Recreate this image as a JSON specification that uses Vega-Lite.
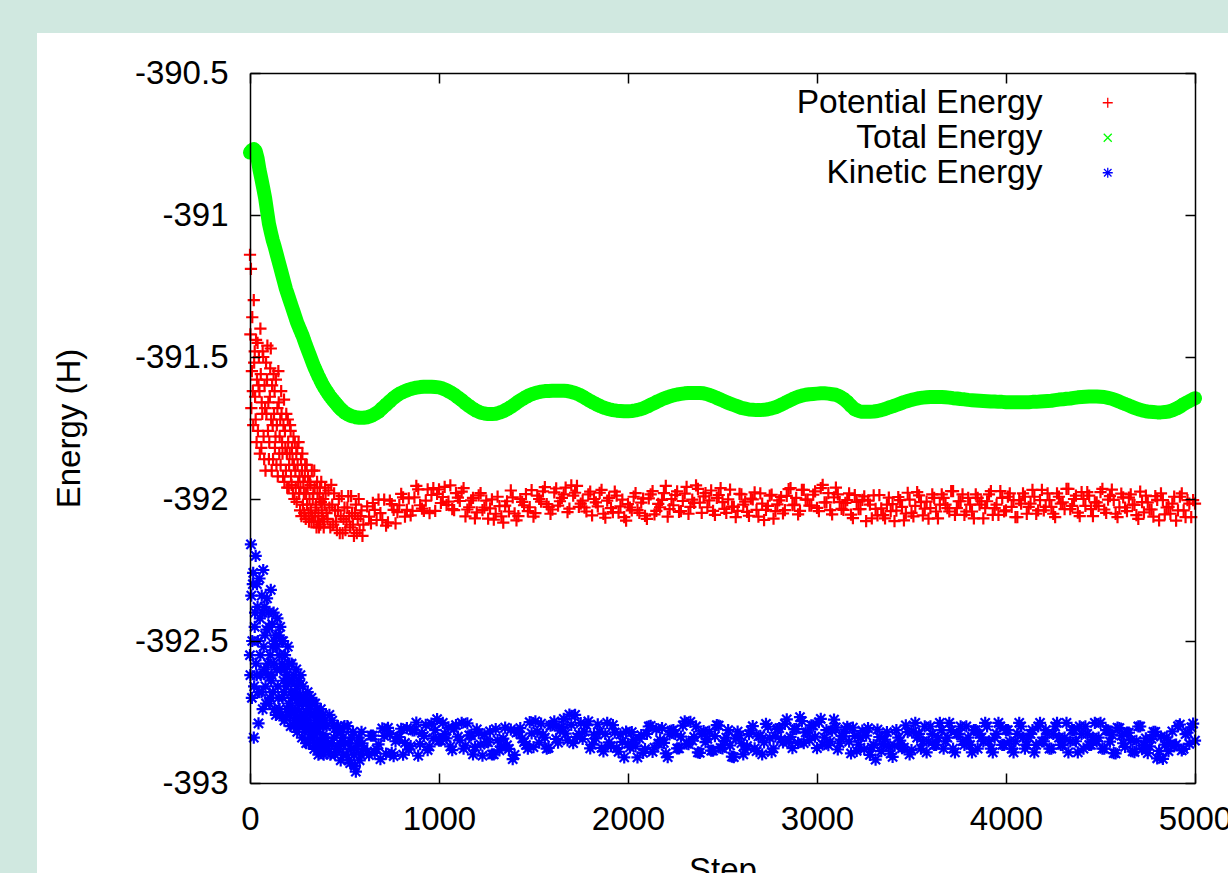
{
"$schema": "https://vega.github.io/schema/vega-lite/v6.json",
"width": 945, "height": 710,
"autosize": {"type": "none"},
"padding": {"left": 250, "top": 73, "right": 33, "bottom": 90},
"background": "#d0e8e0",
"config": {"view": {"stroke": null}, "font": "Liberation Sans"},
"datasets": {"energy": [
{"s":0,"t":-390.78,"p":-391.14,"k":-392.55},
{"s":5,"p":-391.19,"k":-392.16},
{"s":10,"t":-390.772,"p":-391.55,"k":-392.7},
{"s":15,"p":-391.62,"k":-392.3},
{"s":20,"t":-390.768,"p":-391.3,"k":-392.84},
{"s":25,"p":-391.48,"k":-392.45},
{"s":30,"t":-390.775,"p":-391.72,"k":-392.2},
{"s":35,"p":-391.8,"k":-392.62},
{"s":40,"t":-390.8,"p":-391.45,"k":-392.38},
{"s":45,"p":-391.6,"k":-392.79},
{"s":50,"t":-390.84,"p":-391.62,"k":-392.28},
{"s":55,"p":-391.4,"k":-392.55},
{"s":60,"t":-390.872,"p":-391.82,"k":-392.68},
{"s":65,"p":-391.7,"k":-392.4},
{"s":70,"t":-390.905,"p":-391.5,"k":-392.25},
{"s":75,"p":-391.86,"k":-392.6},
{"s":80,"t":-390.94,"p":-391.68,"k":-392.48},
{"s":85,"p":-391.52,"k":-392.72},
{"s":90,"t":-390.985,"p":-391.58,"k":-392.35},
{"s":95,"p":-391.76,"k":-392.58},
{"s":100,"t":-391.03,"p":-391.86,"k":-392.45},
{"s":105,"p":-391.64,"k":-392.7},
{"s":110,"t":-391.06,"p":-391.47,"k":-392.32},
{"s":115,"p":-391.9,"k":-392.62},
{"s":120,"t":-391.088,"p":-391.74,"k":-392.52},
{"s":125,"p":-391.56,"k":-392.4},
{"s":130,"t":-391.11,"p":-391.62,"k":-392.74},
{"s":135,"p":-391.78,"k":-392.48},
{"s":140,"t":-391.135,"p":-391.88,"k":-392.6},
{"s":145,"p":-391.68,"k":-392.42},
{"s":150,"t":-391.16,"p":-391.55,"k":-392.7},
{"s":155,"p":-391.84,"k":-392.55},
{"s":160,"t":-391.185,"p":-391.72,"k":-392.45},
{"s":165,"p":-391.62,"k":-392.76},
{"s":170,"t":-391.21,"p":-391.8,"k":-392.58},
{"s":175,"p":-391.92,"k":-392.5},
{"s":180,"t":-391.235,"p":-391.65,"k":-392.68},
{"s":185,"p":-391.76,"k":-392.55},
{"s":190,"t":-391.26,"p":-391.9,"k":-392.77},
{"s":195,"p":-391.84,"k":-392.62},
{"s":200,"t":-391.28,"p":-391.72,"k":-392.52},
{"s":205,"p":-391.96,"k":-392.72},
{"s":210,"t":-391.3,"p":-391.84,"k":-392.64},
{"s":215,"p":-391.76,"k":-392.8},
{"s":220,"t":-391.32,"p":-391.95,"k":-392.58},
{"s":225,"p":-391.86,"k":-392.7},
{"s":230,"t":-391.34,"p":-391.78,"k":-392.62},
{"s":235,"p":-392.0,"k":-392.78},
{"s":240,"t":-391.36,"p":-391.9,"k":-392.68},
{"s":245,"p":-391.84,"k":-392.6},
{"s":250,"t":-391.38,"p":-391.82,"k":-392.82},
{"s":255,"p":-391.94,"k":-392.72},
{"s":260,"t":-391.396,"p":-391.98,"k":-392.64},
{"s":265,"p":-392.04,"k":-392.78},
{"s":270,"t":-391.412,"p":-391.86,"k":-392.7},
{"s":275,"p":-391.9,"k":-392.84},
{"s":280,"t":-391.428,"p":-392.02,"k":-392.66},
{"s":285,"p":-391.98,"k":-392.76},
{"s":290,"t":-391.447,"p":-391.92,"k":-392.82},
{"s":295,"p":-392.07,"k":-392.7},
{"s":300,"t":-391.465,"p":-391.88,"k":-392.78},
{"s":305,"p":-391.96,"k":-392.68},
{"s":310,"t":-391.483,"p":-392.05,"k":-392.86},
{"s":315,"p":-392.0,"k":-392.74},
{"s":320,"t":-391.5,"p":-391.95,"k":-392.8},
{"s":325,"p":-392.08,"k":-392.7},
{"s":330,"t":-391.518,"p":-392.06,"k":-392.84},
{"s":335,"p":-391.98,"k":-392.76},
{"s":340,"t":-391.535,"p":-391.9,"k":-392.88},
{"s":345,"p":-392.06,"k":-392.72},
{"s":350,"t":-391.55,"p":-392.02,"k":-392.82},
{"s":355,"p":-391.94,"k":-392.86},
{"s":360,"t":-391.565,"p":-392.08,"k":-392.76},
{"s":365,"p":-392.1,"k":-392.88},
{"s":370,"t":-391.578,"p":-391.96,"k":-392.8},
{"s":375,"p":-392.01,"k":-392.74},
{"s":380,"t":-391.592,"p":-392.04,"k":-392.86},
{"s":385,"p":-392.07,"k":-392.8},
{"s":390,"t":-391.604,"p":-392.1,"k":-392.9},
{"s":395,"p":-392.02,"k":-392.78},
{"s":400,"t":-391.615,"p":-391.98,"k":-392.84},
{"s":410,"t":-391.625,"p":-392.07,"k":-392.88},
{"s":420,"t":-391.635,"p":-392.03,"k":-392.76},
{"s":430,"t":-391.644,"p":-391.95,"k":-392.86},
{"s":440,"t":-391.652,"p":-392.09,"k":-392.8},
{"s":450,"t":-391.66,"p":-392.04,"k":-392.9},
{"s":460,"t":-391.668,"p":-392.11,"k":-392.82},
{"s":470,"t":-391.676,"p":-392.0,"k":-392.88},
{"s":480,"t":-391.683,"p":-392.06,"k":-392.92},
{"s":490,"t":-391.689,"p":-392.12,"k":-392.84},
{"s":500,"t":-391.695,"p":-392.03,"k":-392.8},
{"s":510,"t":-391.699,"p":-392.08,"k":-392.9},
{"s":520,"t":-391.703,"p":-391.99,"k":-392.86},
{"s":530,"t":-391.706,"p":-392.1,"k":-392.93},
{"s":540,"t":-391.709,"p":-392.05,"k":-392.84},
{"s":550,"t":-391.71,"p":-392.13,"k":-392.9},
{"s":560,"t":-391.712,"p":-392.02,"k":-392.96},
{"s":570,"t":-391.713,"p":-392.07,"k":-392.86},
{"s":580,"t":-391.714,"p":-392.11,"k":-392.92},
{"s":590,"t":-391.714,"p":-392.04,"k":-392.82},
{"s":600,"t":-391.714,"p":-392.09,"k":-392.88},
{"s":620,"t":-391.712,"p":-392.026,"k":-392.889},
{"s":640,"t":-391.708,"p":-392.086,"k":-392.833},
{"s":660,"t":-391.701,"p":-392.038,"k":-392.894},
{"s":680,"t":-391.693,"p":-392.002,"k":-392.864},
{"s":700,"t":-391.68,"p":-392.074,"k":-392.808},
{"s":720,"t":-391.668,"p":-392.094,"k":-392.897},
{"s":740,"t":-391.656,"p":-392.006,"k":-392.829},
{"s":760,"t":-391.644,"p":-392.038,"k":-392.905},
{"s":780,"t":-391.634,"p":-392.046,"k":-392.838},
{"s":800,"t":-391.626,"p":-391.982,"k":-392.809},
{"s":820,"t":-391.62,"p":-392.062,"k":-392.859},
{"s":840,"t":-391.615,"p":-391.998,"k":-392.883},
{"s":860,"t":-391.611,"p":-392.042,"k":-392.815},
{"s":880,"t":-391.608,"p":-391.954,"k":-392.787},
{"s":900,"t":-391.606,"p":-392.022,"k":-392.863},
{"s":920,"t":-391.605,"p":-392.042,"k":-392.834},
{"s":940,"t":-391.605,"p":-391.966,"k":-392.884},
{"s":960,"t":-391.605,"p":-391.986,"k":-392.791},
{"s":980,"t":-391.606,"p":-392.042,"k":-392.814},
{"s":1000,"t":-391.607,"p":-391.966,"k":-392.851},
{"s":1020,"t":-391.611,"p":-391.993,"k":-392.788},
{"s":1040,"t":-391.617,"p":-392.021,"k":-392.843},
{"s":1060,"t":-391.624,"p":-391.952,"k":-392.871},
{"s":1080,"t":-391.632,"p":-392.039,"k":-392.809},
{"s":1100,"t":-391.642,"p":-391.995,"k":-392.837},
{"s":1120,"t":-391.652,"p":-391.974,"k":-392.788},
{"s":1140,"t":-391.663,"p":-392.061,"k":-392.868},
{"s":1160,"t":-391.673,"p":-392.029,"k":-392.832},
{"s":1180,"t":-391.682,"p":-391.996,"k":-392.899},
{"s":1200,"t":-391.69,"p":-392.047,"k":-392.811},
{"s":1220,"t":-391.696,"p":-391.979,"k":-392.865},
{"s":1240,"t":-391.699,"p":-392.03,"k":-392.829},
{"s":1260,"t":-391.701,"p":-392.069,"k":-392.857},
{"s":1280,"t":-391.701,"p":-392.001,"k":-392.899},
{"s":1300,"t":-391.7,"p":-392.052,"k":-392.81},
{"s":1320,"t":-391.696,"p":-392.025,"k":-392.885},
{"s":1340,"t":-391.691,"p":-392.083,"k":-392.844},
{"s":1360,"t":-391.684,"p":-392.008,"k":-392.867},
{"s":1380,"t":-391.676,"p":-391.97,"k":-392.812},
{"s":1400,"t":-391.667,"p":-392.051,"k":-392.901},
{"s":1420,"t":-391.657,"p":-392.06,"k":-392.82},
{"s":1440,"t":-391.649,"p":-392.01,"k":-392.843},
{"s":1460,"t":-391.641,"p":-391.983,"k":-392.866},
{"s":1480,"t":-391.634,"p":-392.029,"k":-392.786},
{"s":1500,"t":-391.629,"p":-392.062,"k":-392.874},
{"s":1520,"t":-391.625,"p":-391.988,"k":-392.819},
{"s":1540,"t":-391.622,"p":-392.009,"k":-392.791},
{"s":1560,"t":-391.62,"p":-391.958,"k":-392.84},
{"s":1580,"t":-391.62,"p":-392.028,"k":-392.876},
{"s":1600,"t":-391.619,"p":-392.037,"k":-392.796},
{"s":1620,"t":-391.619,"p":-391.963,"k":-392.845},
{"s":1640,"t":-391.619,"p":-392.008,"k":-392.816},
{"s":1660,"t":-391.619,"p":-391.984,"k":-392.774},
{"s":1680,"t":-391.62,"p":-392.046,"k":-392.85},
{"s":1700,"t":-391.623,"p":-391.952,"k":-392.795},
{"s":1720,"t":-391.627,"p":-391.978,"k":-392.76},
{"s":1740,"t":-391.632,"p":-392.028,"k":-392.828},
{"s":1760,"t":-391.639,"p":-392.006,"k":-392.845},
{"s":1780,"t":-391.647,"p":-392.044,"k":-392.796},
{"s":1800,"t":-391.655,"p":-391.974,"k":-392.878},
{"s":1820,"t":-391.662,"p":-392.0,"k":-392.83},
{"s":1840,"t":-391.669,"p":-392.026,"k":-392.794},
{"s":1860,"t":-391.675,"p":-391.968,"k":-392.876},
{"s":1880,"t":-391.68,"p":-392.066,"k":-392.827},
{"s":1900,"t":-391.684,"p":-391.996,"k":-392.857},
{"s":1920,"t":-391.687,"p":-392.046,"k":-392.796},
{"s":1940,"t":-391.689,"p":-391.988,"k":-392.877},
{"s":1960,"t":-391.69,"p":-392.026,"k":-392.829},
{"s":1980,"t":-391.691,"p":-392.064,"k":-392.91},
{"s":2000,"t":-391.691,"p":-392.018,"k":-392.862},
{"s":2020,"t":-391.69,"p":-392.04,"k":-392.821},
{"s":2040,"t":-391.688,"p":-391.979,"k":-392.871},
{"s":2060,"t":-391.685,"p":-392.049,"k":-392.844},
{"s":2080,"t":-391.681,"p":-391.999,"k":-392.894},
{"s":2100,"t":-391.675,"p":-392.07,"k":-392.827},
{"s":2120,"t":-391.668,"p":-391.984,"k":-392.799},
{"s":2140,"t":-391.662,"p":-392.054,"k":-392.875},
{"s":2160,"t":-391.655,"p":-392.017,"k":-392.861},
{"s":2180,"t":-391.649,"p":-392.003,"k":-392.807},
{"s":2200,"t":-391.644,"p":-391.954,"k":-392.896},
{"s":2220,"t":-391.639,"p":-392.036,"k":-392.829},
{"s":2240,"t":-391.635,"p":-392.022,"k":-392.814},
{"s":2260,"t":-391.632,"p":-391.973,"k":-392.878},
{"s":2280,"t":-391.63,"p":-392.043,"k":-392.837},
{"s":2300,"t":-391.628,"p":-391.981,"k":-392.783},
{"s":2320,"t":-391.627,"p":-392.052,"k":-392.863},
{"s":2340,"t":-391.627,"p":-392.002,"k":-392.851},
{"s":2360,"t":-391.627,"p":-391.952,"k":-392.801},
{"s":2380,"t":-391.627,"p":-392.013,"k":-392.894},
{"s":2400,"t":-391.628,"p":-391.991,"k":-392.817},
{"s":2420,"t":-391.631,"p":-392.029,"k":-392.845},
{"s":2440,"t":-391.636,"p":-391.97,"k":-392.886},
{"s":2460,"t":-391.641,"p":-392.056,"k":-392.835},
{"s":2480,"t":-391.647,"p":-391.986,"k":-392.798},
{"s":2500,"t":-391.653,"p":-392.011,"k":-392.878},
{"s":2520,"t":-391.659,"p":-392.049,"k":-392.84},
{"s":2540,"t":-391.664,"p":-391.967,"k":-392.868},
{"s":2560,"t":-391.669,"p":-392.028,"k":-392.909},
{"s":2580,"t":-391.674,"p":-392.042,"k":-392.819},
{"s":2600,"t":-391.679,"p":-391.984,"k":-392.86},
{"s":2620,"t":-391.682,"p":-392.009,"k":-392.883},
{"s":2640,"t":-391.685,"p":-392.059,"k":-392.828},
{"s":2660,"t":-391.686,"p":-392.001,"k":-392.8},
{"s":2680,"t":-391.687,"p":-392.038,"k":-392.888},
{"s":2700,"t":-391.687,"p":-391.98,"k":-392.834},
{"s":2720,"t":-391.686,"p":-392.074,"k":-392.857},
{"s":2740,"t":-391.684,"p":-392.024,"k":-392.802},
{"s":2760,"t":-391.681,"p":-391.985,"k":-392.891},
{"s":2780,"t":-391.677,"p":-392.043,"k":-392.836},
{"s":2800,"t":-391.671,"p":-392.005,"k":-392.807},
{"s":2820,"t":-391.665,"p":-392.051,"k":-392.857},
{"s":2840,"t":-391.658,"p":-391.989,"k":-392.776},
{"s":2860,"t":-391.652,"p":-391.962,"k":-392.838},
{"s":2880,"t":-391.645,"p":-392.02,"k":-392.81},
{"s":2900,"t":-391.64,"p":-392.054,"k":-392.859},
{"s":2920,"t":-391.636,"p":-391.968,"k":-392.782},
{"s":2940,"t":-391.633,"p":-392.002,"k":-392.822},
{"s":2960,"t":-391.631,"p":-392.023,"k":-392.849},
{"s":2980,"t":-391.63,"p":-391.985,"k":-392.798},
{"s":3000,"t":-391.629,"p":-392.031,"k":-392.877},
{"s":3020,"t":-391.628,"p":-391.962,"k":-392.774},
{"s":3040,"t":-391.628,"p":-392.012,"k":-392.84},
{"s":3060,"t":-391.629,"p":-391.979,"k":-392.867},
{"s":3080,"t":-391.631,"p":-392.054,"k":-392.816},
{"s":3100,"t":-391.633,"p":-391.96,"k":-392.804},
{"s":3120,"t":-391.639,"p":-392.011,"k":-392.86},
{"s":3140,"t":-391.647,"p":-392.038,"k":-392.837},
{"s":3160,"t":-391.658,"p":-392.004,"k":-392.802},
{"s":3180,"t":-391.672,"p":-392.055,"k":-392.896},
{"s":3200,"t":-391.684,"p":-391.986,"k":-392.835},
{"s":3220,"t":-391.69,"p":-392.036,"k":-392.865},
{"s":3240,"t":-391.693,"p":-392.003,"k":-392.816},
{"s":3260,"t":-391.693,"p":-392.078,"k":-392.833},
{"s":3280,"t":-391.693,"p":-392.02,"k":-392.901},
{"s":3300,"t":-391.692,"p":-391.987,"k":-392.866},
{"s":3320,"t":-391.69,"p":-392.058,"k":-392.812},
{"s":3340,"t":-391.687,"p":-392.033,"k":-392.888},
{"s":3360,"t":-391.683,"p":-392.068,"k":-392.847},
{"s":3380,"t":-391.678,"p":-391.995,"k":-392.871},
{"s":3400,"t":-391.674,"p":-392.018,"k":-392.908},
{"s":3420,"t":-391.669,"p":-392.041,"k":-392.814},
{"s":3440,"t":-391.664,"p":-392.004,"k":-392.851},
{"s":3460,"t":-391.659,"p":-392.075,"k":-392.875},
{"s":3480,"t":-391.655,"p":-391.978,"k":-392.821},
{"s":3500,"t":-391.651,"p":-392.049,"k":-392.884},
{"s":3520,"t":-391.648,"p":-392.024,"k":-392.788},
{"s":3540,"t":-391.645,"p":-391.987,"k":-392.827},
{"s":3560,"t":-391.643,"p":-392.058,"k":-392.853},
{"s":3580,"t":-391.642,"p":-392.009,"k":-392.892},
{"s":3600,"t":-391.641,"p":-392.032,"k":-392.801},
{"s":3620,"t":-391.641,"p":-391.996,"k":-392.866},
{"s":3640,"t":-391.641,"p":-392.068,"k":-392.84},
{"s":3660,"t":-391.641,"p":-391.984,"k":-392.814},
{"s":3680,"t":-391.642,"p":-392.02,"k":-392.853},
{"s":3700,"t":-391.643,"p":-392.044,"k":-392.788},
{"s":3720,"t":-391.645,"p":-391.972,"k":-392.879},
{"s":3740,"t":-391.646,"p":-392.032,"k":-392.827},
{"s":3760,"t":-391.648,"p":-392.008,"k":-392.801},
{"s":3780,"t":-391.649,"p":-392.056,"k":-392.866},
{"s":3800,"t":-391.651,"p":-391.996,"k":-392.84},
{"s":3820,"t":-391.652,"p":-392.044,"k":-392.892},
{"s":3840,"t":-391.653,"p":-391.984,"k":-392.814},
{"s":3860,"t":-391.654,"p":-392.02,"k":-392.827},
{"s":3880,"t":-391.655,"p":-392.068,"k":-392.853},
{"s":3900,"t":-391.656,"p":-392.008,"k":-392.801},
{"s":3920,"t":-391.657,"p":-391.972,"k":-392.879},
{"s":3940,"t":-391.657,"p":-392.032,"k":-392.84},
{"s":3960,"t":-391.658,"p":-392.056,"k":-392.788},
{"s":3980,"t":-391.658,"p":-391.996,"k":-392.866},
{"s":4000,"t":-391.659,"p":-392.04,"k":-392.814},
{"s":4020,"t":-391.659,"p":-391.98,"k":-392.853},
{"s":4040,"t":-391.659,"p":-392.004,"k":-392.892},
{"s":4060,"t":-391.659,"p":-392.064,"k":-392.827},
{"s":4080,"t":-391.659,"p":-392.016,"k":-392.801},
{"s":4100,"t":-391.659,"p":-391.992,"k":-392.879},
{"s":4120,"t":-391.659,"p":-392.028,"k":-392.84},
{"s":4140,"t":-391.658,"p":-391.968,"k":-392.814},
{"s":4160,"t":-391.658,"p":-392.052,"k":-392.866},
{"s":4180,"t":-391.657,"p":-392.004,"k":-392.788},
{"s":4200,"t":-391.656,"p":-392.04,"k":-392.853},
{"s":4220,"t":-391.655,"p":-391.98,"k":-392.827},
{"s":4240,"t":-391.654,"p":-392.028,"k":-392.879},
{"s":4260,"t":-391.652,"p":-392.064,"k":-392.801},
{"s":4280,"t":-391.65,"p":-391.992,"k":-392.84},
{"s":4300,"t":-391.649,"p":-392.012,"k":-392.866},
{"s":4320,"t":-391.647,"p":-391.964,"k":-392.788},
{"s":4340,"t":-391.646,"p":-392.036,"k":-392.853},
{"s":4360,"t":-391.644,"p":-392.0,"k":-392.814},
{"s":4380,"t":-391.642,"p":-392.048,"k":-392.892},
{"s":4400,"t":-391.641,"p":-391.976,"k":-392.827},
{"s":4420,"t":-391.64,"p":-392.024,"k":-392.801},
{"s":4440,"t":-391.639,"p":-391.988,"k":-392.866},
{"s":4460,"t":-391.639,"p":-392.06,"k":-392.84},
{"s":4480,"t":-391.639,"p":-392.012,"k":-392.853},
{"s":4500,"t":-391.64,"p":-391.976,"k":-392.788},
{"s":4520,"t":-391.641,"p":-392.037,"k":-392.879},
{"s":4540,"t":-391.644,"p":-392.002,"k":-392.815},
{"s":4560,"t":-391.647,"p":-391.967,"k":-392.83},
{"s":4580,"t":-391.652,"p":-392.052,"k":-392.896},
{"s":4600,"t":-391.657,"p":-392.029,"k":-392.807},
{"s":4620,"t":-391.663,"p":-391.994,"k":-392.86},
{"s":4640,"t":-391.668,"p":-392.043,"k":-392.823},
{"s":4660,"t":-391.674,"p":-391.984,"k":-392.85},
{"s":4680,"t":-391.679,"p":-392.021,"k":-392.891},
{"s":4700,"t":-391.684,"p":-392.07,"k":-392.801},
{"s":4720,"t":-391.688,"p":-392.011,"k":-392.881},
{"s":4740,"t":-391.691,"p":-391.988,"k":-392.843},
{"s":4760,"t":-391.693,"p":-392.037,"k":-392.871},
{"s":4780,"t":-391.694,"p":-392.062,"k":-392.82},
{"s":4800,"t":-391.695,"p":-392.003,"k":-392.913},
{"s":4820,"t":-391.695,"p":-391.98,"k":-392.837},
{"s":4840,"t":-391.694,"p":-392.054,"k":-392.865},
{"s":4860,"t":-391.692,"p":-392.028,"k":-392.888},
{"s":4880,"t":-391.688,"p":-392.016,"k":-392.818},
{"s":4900,"t":-391.682,"p":-392.076,"k":-392.865},
{"s":4920,"t":-391.675,"p":-391.992,"k":-392.794},
{"s":4940,"t":-391.666,"p":-392.04,"k":-392.88},
{"s":4960,"t":-391.659,"p":-392.004,"k":-392.823},
{"s":4980,"t":-391.652,"p":-392.064,"k":-392.804},
{"s":5000,"t":-391.645,"p":-392.016,"k":-392.851},
{"s":2,"p":-391.42,"k":-392.62},{"s":7,"p":-391.68,"k":-392.34},{"s":12,"p":-391.36,"k":-392.5},{"s":17,"p":-391.74,"k":-392.26},
{"s":22,"p":-391.52,"k":-392.66},{"s":27,"p":-391.64,"k":-392.4},{"s":32,"p":-391.44,"k":-392.58},{"s":37,"p":-391.58,"k":-392.3},
{"s":42,"p":-391.76,"k":-392.5},{"s":47,"p":-391.5,"k":-392.68},{"s":52,"p":-391.84,"k":-392.42},{"s":57,"p":-391.56,"k":-392.62},
{"s":62,"p":-391.66,"k":-392.34},{"s":67,"p":-391.48,"k":-392.74},{"s":72,"p":-391.78,"k":-392.52},{"s":77,"p":-391.6,"k":-392.38},
{"s":82,"p":-391.9,"k":-392.66},{"s":87,"p":-391.7,"k":-392.46},{"s":92,"p":-391.46,"k":-392.62},{"s":97,"p":-391.66,"k":-392.4},
{"s":102,"p":-391.8,"k":-392.72},{"s":107,"p":-391.54,"k":-392.55},{"s":112,"p":-391.72,"k":-392.64},{"s":117,"p":-391.6,"k":-392.44},
{"s":122,"p":-391.86,"k":-392.68},{"s":127,"p":-391.7,"k":-392.58},{"s":132,"p":-391.82,"k":-392.5},{"s":137,"p":-391.58,"k":-392.76},
{"s":142,"p":-391.74,"k":-392.52},{"s":147,"p":-391.92,"k":-392.66},{"s":152,"p":-391.66,"k":-392.48},{"s":157,"p":-391.78,"k":-392.74},
{"s":162,"p":-391.88,"k":-392.6},{"s":167,"p":-391.7,"k":-392.5},{"s":172,"p":-391.84,"k":-392.7},{"s":177,"p":-391.74,"k":-392.64},
{"s":182,"p":-391.94,"k":-392.78},{"s":187,"p":-391.82,"k":-392.6},{"s":192,"p":-391.7,"k":-392.66},{"s":197,"p":-391.96,"k":-392.74},
{"s":202,"p":-391.8,"k":-392.64},{"s":207,"p":-391.88,"k":-392.58},{"s":212,"p":-391.74,"k":-392.76},{"s":217,"p":-391.92,"k":-392.68},
{"s":222,"p":-391.82,"k":-392.74},{"s":227,"p":-391.98,"k":-392.64},{"s":232,"p":-391.88,"k":-392.8},{"s":237,"p":-391.8,"k":-392.7},
{"s":242,"p":-391.96,"k":-392.76},{"s":247,"p":-392.01,"k":-392.66},{"s":252,"p":-391.88,"k":-392.74},{"s":257,"p":-391.8,"k":-392.8},
{"s":262,"p":-391.92,"k":-392.7},{"s":267,"p":-391.96,"k":-392.62},{"s":272,"p":-392.06,"k":-392.76},{"s":277,"p":-391.84,"k":-392.72},
{"s":282,"p":-391.94,"k":-392.8},{"s":287,"p":-392.05,"k":-392.7},{"s":292,"p":-391.88,"k":-392.76},{"s":297,"p":-391.98,"k":-392.86},
{"s":302,"p":-392.02,"k":-392.72},{"s":307,"p":-391.92,"k":-392.8},{"s":312,"p":-392.08,"k":-392.74},{"s":317,"p":-391.94,"k":-392.84},
{"s":322,"p":-392.04,"k":-392.76},{"s":327,"p":-391.9,"k":-392.82},{"s":332,"p":-392.0,"k":-392.72},{"s":337,"p":-392.08,"k":-392.8},
{"s":342,"p":-391.96,"k":-392.86},{"s":347,"p":-392.03,"k":-392.78},{"s":352,"p":-392.1,"k":-392.74},{"s":357,"p":-391.98,"k":-392.82},
{"s":362,"p":-392.05,"k":-392.9},{"s":367,"p":-392.0,"k":-392.8},{"s":372,"p":-392.09,"k":-392.86},{"s":377,"p":-391.94,"k":-392.78},
{"s":382,"p":-392.06,"k":-392.84},{"s":387,"p":-392.0,"k":-392.76},{"s":392,"p":-392.08,"k":-392.84},{"s":397,"p":-391.96,"k":-392.88},
{"s":405,"p":-392.05,"k":-392.8},{"s":415,"p":-391.97,"k":-392.86},{"s":425,"p":-392.1,"k":-392.9},{"s":435,"p":-392.02,"k":-392.78},
{"s":445,"p":-391.98,"k":-392.84},{"s":455,"p":-392.08,"k":-392.88},{"s":465,"p":-392.04,"k":-392.8},{"s":475,"p":-392.12,"k":-392.86},
{"s":485,"p":-391.99,"k":-392.82},{"s":495,"p":-392.07,"k":-392.9},{"s":505,"p":-392.11,"k":-392.86},{"s":515,"p":-392.03,"k":-392.8},
{"s":525,"p":-392.06,"k":-392.92},{"s":535,"p":-391.99,"k":-392.88},{"s":545,"p":-392.09,"k":-392.82},{"s":555,"p":-392.05,"k":-392.94},
{"s":565,"p":-392.12,"k":-392.88},{"s":575,"p":-392.0,"k":-392.84},{"s":585,"p":-392.06,"k":-392.9},{"s":595,"p":-392.13,"k":-392.86},
{"s":630,"p":-392.062,"k":-392.902},{"s":650,"p":-392.014,"k":-392.833},{"s":670,"p":-392.074,"k":-392.881},{"s":690,"p":-392.05,"k":-392.916},
{"s":710,"p":-392.002,"k":-392.834},{"s":730,"p":-392.082,"k":-392.806},{"s":750,"p":-392.018,"k":-392.894},{"s":770,"p":-392.086,"k":-392.853},
{"s":790,"p":-392.022,"k":-392.838},{"s":810,"p":-391.994,"k":-392.9},{"s":830,"p":-392.038,"k":-392.807},{"s":850,"p":-392.058,"k":-392.87},
{"s":870,"p":-391.994,"k":-392.815},{"s":890,"p":-391.966,"k":-392.904},{"s":910,"p":-392.034,"k":-392.824},{"s":930,"p":-392.006,"k":-392.795},
{"s":950,"p":-392.05,"k":-392.871},{"s":970,"p":-391.962,"k":-392.843},{"s":990,"p":-391.982,"k":-392.775},{"s":1010,"p":-392.014,"k":-392.851},
{"s":1030,"p":-391.957,"k":-392.827},{"s":1050,"p":-392.009,"k":-392.804},{"s":1070,"p":-392.036,"k":-392.884},{"s":1090,"p":-391.979,"k":-392.796},
{"s":1110,"p":-392.007,"k":-392.85},{"s":1130,"p":-391.962,"k":-392.879},{"s":1150,"p":-392.037,"k":-392.79},{"s":1170,"p":-392.005,"k":-392.832},
{"s":1190,"p":-392.068,"k":-392.873},{"s":1210,"p":-391.987,"k":-392.824},{"s":1230,"p":-392.039,"k":-392.904},{"s":1250,"p":-392.006,"k":-392.855},
{"s":1270,"p":-392.033,"k":-392.818},{"s":1290,"p":-392.073,"k":-392.899},{"s":1310,"p":-391.992,"k":-392.849},{"s":1330,"p":-392.061,"k":-392.872},
{"s":1350,"p":-392.023,"k":-392.805},{"s":1370,"p":-392.044,"k":-392.88},{"s":1390,"p":-391.994,"k":-392.916},{"s":1410,"p":-392.075,"k":-392.823},
{"s":1430,"p":-392.0,"k":-392.807},{"s":1450,"p":-392.022,"k":-392.856},{"s":1470,"p":-392.043,"k":-392.879},{"s":1490,"p":-391.969,"k":-392.825},
{"s":1510,"p":-392.05,"k":-392.783},{"s":1530,"p":-392.0,"k":-392.858},{"s":1550,"p":-391.973,"k":-392.83},{"s":1570,"p":-392.018,"k":-392.879},
{"s":1590,"p":-392.052,"k":-392.798},{"s":1610,"p":-391.977,"k":-392.783},{"s":1630,"p":-392.023,"k":-392.858},{"s":1650,"p":-391.996,"k":-392.803},
{"s":1670,"p":-391.96,"k":-392.826},{"s":1690,"p":-392.034,"k":-392.759},{"s":1710,"p":-391.988,"k":-392.86},{"s":1730,"p":-391.954,"k":-392.838},
{"s":1750,"p":-392.016,"k":-392.789},{"s":1770,"p":-392.03,"k":-392.819},{"s":1790,"p":-391.984,"k":-392.783},{"s":1810,"p":-392.058,"k":-392.865},
{"s":1830,"p":-392.012,"k":-392.843},{"s":1850,"p":-391.978,"k":-392.82},{"s":1870,"p":-392.052,"k":-392.889},{"s":1890,"p":-392.006,"k":-392.788},
{"s":1910,"p":-392.032,"k":-392.87},{"s":1930,"p":-391.974,"k":-392.822},{"s":1950,"p":-392.048,"k":-392.89},{"s":1970,"p":-392.002,"k":-392.855},
{"s":1990,"p":-392.076,"k":-392.819},{"s":2010,"p":-392.03,"k":-392.875},{"s":2030,"p":-391.992,"k":-392.847},{"s":2050,"p":-392.039,"k":-392.91},
{"s":2070,"p":-392.013,"k":-392.831},{"s":2090,"p":-392.059,"k":-392.881},{"s":2110,"p":-391.998,"k":-392.801},{"s":2130,"p":-391.972,"k":-392.89},
{"s":2150,"p":-392.042,"k":-392.81},{"s":2170,"p":-392.029,"k":-392.848},{"s":2190,"p":-391.979,"k":-392.859},{"s":2210,"p":-392.062,"k":-392.909},
{"s":2230,"p":-392.0,"k":-392.816},{"s":2250,"p":-391.986,"k":-392.827},{"s":2270,"p":-392.045,"k":-392.878},{"s":2290,"p":-392.007,"k":-392.798},
{"s":2310,"p":-391.957,"k":-392.861},{"s":2330,"p":-392.028,"k":-392.785},{"s":2350,"p":-392.014,"k":-392.838},{"s":2370,"p":-391.964,"k":-392.892},
{"s":2390,"p":-392.049,"k":-392.829},{"s":2410,"p":-391.979,"k":-392.856},{"s":2430,"p":-392.005,"k":-392.819},{"s":2450,"p":-392.042,"k":-392.886},
{"s":2470,"p":-391.996,"k":-392.796},{"s":2490,"p":-391.962,"k":-392.876},{"s":2510,"p":-392.035,"k":-392.852},{"s":2530,"p":-392.001,"k":-392.814},
{"s":2550,"p":-392.027,"k":-392.907},{"s":2570,"p":-392.064,"k":-392.844},{"s":2590,"p":-391.982,"k":-392.832},{"s":2610,"p":-392.02,"k":-392.899},
{"s":2630,"p":-392.045,"k":-392.87},{"s":2650,"p":-391.999,"k":-392.815},{"s":2670,"p":-391.977,"k":-392.878},{"s":2690,"p":-392.062,"k":-392.836},
{"s":2710,"p":-392.016,"k":-392.899},{"s":2730,"p":-392.038,"k":-392.792},{"s":2750,"p":-391.988,"k":-392.841},{"s":2770,"p":-392.069,"k":-392.878},
{"s":2790,"p":-392.019,"k":-392.81},{"s":2810,"p":-391.993,"k":-392.846},{"s":2830,"p":-392.039,"k":-392.792},{"s":2850,"p":-391.965,"k":-392.854},
{"s":2870,"p":-392.022,"k":-392.877},{"s":2890,"p":-391.996,"k":-392.81},{"s":2910,"p":-392.042,"k":-392.768},{"s":2930,"p":-391.968,"k":-392.86},
{"s":2950,"p":-392.002,"k":-392.822},{"s":2970,"p":-392.023,"k":-392.797},{"s":2990,"p":-391.973,"k":-392.837},{"s":3010,"p":-392.043,"k":-392.786},
{"s":3030,"p":-391.95,"k":-392.865},{"s":3050,"p":-392.012,"k":-392.814},{"s":3070,"p":-392.039,"k":-392.854},{"s":3090,"p":-391.994,"k":-392.777},
{"s":3110,"p":-391.984,"k":-392.882},{"s":3130,"p":-392.035,"k":-392.834},{"s":3150,"p":-392.014,"k":-392.811},{"s":3170,"p":-391.98,"k":-392.854},
{"s":3190,"p":-392.067,"k":-392.805},{"s":3210,"p":-392.01,"k":-392.887},{"s":3230,"p":-392.036,"k":-392.839},{"s":3250,"p":-391.991,"k":-392.881},
{"s":3270,"p":-392.006,"k":-392.807},{"s":3290,"p":-392.068,"k":-392.875},{"s":3310,"p":-392.035,"k":-392.918},{"s":3330,"p":-391.986,"k":-392.838},
{"s":3350,"p":-392.057,"k":-392.862},{"s":3370,"p":-392.02,"k":-392.821},{"s":3390,"p":-392.043,"k":-392.897},{"s":3410,"p":-392.078,"k":-392.869},
{"s":3430,"p":-391.993,"k":-392.84},{"s":3450,"p":-392.028,"k":-392.877},{"s":3470,"p":-392.051,"k":-392.797},{"s":3490,"p":-392.002,"k":-392.899},
{"s":3510,"p":-392.061,"k":-392.819},{"s":3530,"p":-391.976,"k":-392.84},{"s":3550,"p":-392.011,"k":-392.879},{"s":3570,"p":-392.034,"k":-392.801},
{"s":3590,"p":-392.069,"k":-392.853},{"s":3610,"p":-391.984,"k":-392.827},{"s":3630,"p":-392.044,"k":-392.866},{"s":3650,"p":-392.02,"k":-392.788},
{"s":3670,"p":-391.996,"k":-392.879},{"s":3690,"p":-392.032,"k":-392.84},{"s":3710,"p":-391.972,"k":-392.814},{"s":3730,"p":-392.056,"k":-392.892},
{"s":3750,"p":-392.008,"k":-392.827},{"s":3770,"p":-391.984,"k":-392.853},{"s":3790,"p":-392.044,"k":-392.801},{"s":3810,"p":-392.02,"k":-392.866},
{"s":3830,"p":-392.068,"k":-392.814},{"s":3850,"p":-391.996,"k":-392.879},{"s":3870,"p":-392.008,"k":-392.84},{"s":3890,"p":-392.032,"k":-392.788},
{"s":3910,"p":-391.984,"k":-392.853},{"s":3930,"p":-392.056,"k":-392.892},{"s":3950,"p":-392.02,"k":-392.827},{"s":3970,"p":-391.972,"k":-392.801},
{"s":3990,"p":-392.044,"k":-392.866},{"s":4010,"p":-391.992,"k":-392.814},{"s":4030,"p":-392.028,"k":-392.879},{"s":4050,"p":-392.064,"k":-392.853},
{"s":4070,"p":-392.004,"k":-392.788},{"s":4090,"p":-391.98,"k":-392.84},{"s":4110,"p":-392.052,"k":-392.866},{"s":4130,"p":-392.016,"k":-392.827},
{"s":4150,"p":-391.992,"k":-392.892},{"s":4170,"p":-392.04,"k":-392.801},{"s":4190,"p":-391.968,"k":-392.853},{"s":4210,"p":-392.028,"k":-392.814},
{"s":4230,"p":-392.004,"k":-392.879},{"s":4250,"p":-392.052,"k":-392.827},{"s":4270,"p":-391.98,"k":-392.788},{"s":4290,"p":-392.016,"k":-392.866},
{"s":4310,"p":-392.036,"k":-392.84},{"s":4330,"p":-391.964,"k":-392.892},{"s":4350,"p":-392.024,"k":-392.814},{"s":4370,"p":-391.988,"k":-392.853},
{"s":4390,"p":-392.06,"k":-392.801},{"s":4410,"p":-392.0,"k":-392.879},{"s":4430,"p":-391.976,"k":-392.827},{"s":4450,"p":-392.036,"k":-392.866},
{"s":4470,"p":-392.012,"k":-392.788},{"s":4490,"p":-392.024,"k":-392.84},{"s":4510,"p":-391.964,"k":-392.879},{"s":4530,"p":-392.049,"k":-392.814},
{"s":4550,"p":-391.99,"k":-392.854},{"s":4570,"p":-392.003,"k":-392.895},{"s":4590,"p":-392.064,"k":-392.805},{"s":4610,"p":-391.981,"k":-392.833},
{"s":4630,"p":-392.03,"k":-392.873},{"s":4650,"p":-391.995,"k":-392.823},{"s":4670,"p":-392.02,"k":-392.889},{"s":4690,"p":-392.057,"k":-392.852},
{"s":4710,"p":-391.974,"k":-392.801},{"s":4730,"p":-392.047,"k":-392.868},{"s":4750,"p":-392.012,"k":-392.895},{"s":4770,"p":-392.037,"k":-392.845},
{"s":4790,"p":-391.99,"k":-392.82},{"s":4810,"p":-392.075,"k":-392.887},{"s":4830,"p":-392.004,"k":-392.915},{"s":4850,"p":-392.03,"k":-392.839},
{"s":4870,"p":-392.052,"k":-392.862},{"s":4890,"p":-391.992,"k":-392.87},{"s":4910,"p":-392.04,"k":-392.8},{"s":4930,"p":-391.98,"k":-392.885},
{"s":4950,"p":-392.064,"k":-392.828},{"s":4970,"p":-392.016,"k":-392.862},{"s":4990,"p":-392.004,"k":-392.791}
]},
"layer": [
{
"data": {"values": [{}]},
"mark": {"type": "rect", "color": "white"},
"encoding": {
"x": {"datum": -1127, "type": "quantitative", "scale": {"domain": [0, 5000], "nice": false, "zero": false},
"axis": {"orient": "top", "zindex": 1, "values": [0,1000,2000,3000,4000,5000], "labels": false, "title": null, "grid": false, "tickSize": -10, "tickColor": "black", "tickWidth": 1.5, "domainColor": "black", "domainWidth": 1.5}},
"x2": {"datum": 5600},
"y": {"datum": -390.359, "type": "quantitative", "scale": {"domain": [-393, -390.5], "nice": false, "zero": false},
"axis": {"orient": "right", "zindex": 1, "values": [-393,-392.5,-392,-391.5,-391,-390.5], "labels": false, "title": null, "grid": false, "tickSize": -10, "tickColor": "black", "tickWidth": 1.5, "domainColor": "black", "domainWidth": 1.5}},
"y2": {"datum": -393.6}
}
},
{
"data": {"name": "energy"},
"transform": [{"fold": ["p", "t", "k"], "as": ["series", "E"]}],
"encoding": {
"x": {"field": "s", "type": "quantitative", "scale": {"domain": [0, 5000], "nice": false, "zero": false},
"axis": {"orient": "bottom", "zindex": 1, "values": [0,1000,2000,3000,4000,5000], "labelExpr": "'' + datum.value", "title": "Step", "grid": false, "tickSize": -10, "tickColor": "black", "tickWidth": 1.5, "domainColor": "black", "domainWidth": 1.5, "labelFont": "Liberation Sans", "labelFontSize": 33, "labelColor": "black", "labelPadding": 30, "labelFlush": false, "labelOverlap": false, "titleFont": "Liberation Sans", "titleFontSize": 33, "titleFontWeight": "normal", "titleColor": "black", "titlePadding": 18}},
"y": {"field": "E", "type": "quantitative", "scale": {"domain": [-393, -390.5], "nice": false, "zero": false},
"axis": {"orient": "left", "zindex": 1, "values": [-393,-392.5,-392,-391.5,-391,-390.5], "labelExpr": "'' + datum.value", "title": "Energy (H)", "grid": false, "tickSize": -10, "tickColor": "black", "tickWidth": 1.5, "domainColor": "black", "domainWidth": 1.5, "labelFont": "Liberation Sans", "labelFontSize": 33, "labelColor": "black", "labelPadding": 32, "labelFlush": false, "labelOverlap": false, "titleFont": "Liberation Sans", "titleFontSize": 33, "titleFontWeight": "normal", "titleColor": "black", "titlePadding": 48}}
},
"layer": [
{
"transform": [{"filter": "datum.series == 't' && isValid(datum.E)"}],
"mark": {"type": "line", "color": "#00ff00", "strokeWidth": 14, "strokeCap": "round", "strokeJoin": "round", "invalid": "filter"}
},
{
"mark": {"type": "point", "filled": false, "strokeWidth": 2.2, "size": 150, "opacity": 1},
"encoding": {
"color": {"field": "series", "type": "nominal", "scale": {"domain": ["p", "t", "k"], "range": ["#ff0000", "#00ff00", "#0000ff"]},
"legend": {"orient": "none", "legendX": 841, "legendY": 13, "title": null, "padding": 0, "labelExpr": "datum.label == 'p' ? 'Potential Energy' : datum.label == 't' ? 'Total Energy' : 'Kinetic Energy'", "labelFont": "Liberation Sans", "labelFontSize": 33.5, "labelColor": "black", "labelAlign": "right", "labelOffset": -82, "labelLimit": 500, "symbolSize": 100, "symbolStrokeWidth": 1.3, "rowPadding": 0}},
"shape": {"field": "series", "type": "nominal", "scale": {"domain": ["p", "t", "k"], "range": ["M-1,0L1,0M0,-1L0,1", "M-0.8,-0.8L0.8,0.8M-0.8,0.8L0.8,-0.8", "M-1,0L1,0M0,-1L0,1M-0.75,-0.75L0.75,0.75M-0.75,0.75L0.75,-0.75"]}}
}
}
]
}
],
"resolve": {"scale": {"x": "independent", "y": "independent"}, "axis": {"x": "independent", "y": "independent"}}
}
